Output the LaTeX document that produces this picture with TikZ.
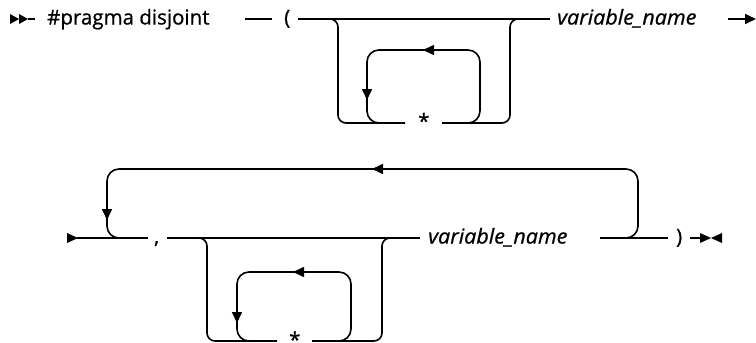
\documentclass[tikz,border=0pt]{standalone}
\usepackage{fontspec}
\setmainfont{Open Sans}[ItalicFeatures={FakeStretch=1.05}]
\usetikzlibrary{arrows.meta}
\begin{document}
\begin{tikzpicture}[x=1pt,y=-1pt,
  rail/.style={line width=1.6pt, rounded corners=8pt},
  loop/.style={line width=1.6pt, rounded corners=12pt},
  tip/.style={-{Triangle[length=11pt,width=10pt]}, line width=1.6pt},
  lbl/.style={inner sep=0pt, anchor=base west, font=\fontsize{20.5}{24}\selectfont\addfontfeature{FakeBold=0.8}},
  var/.style={lbl, font=\fontsize{20.5}{24}\selectfont\itshape\addfontfeature{FakeBold=0.8}},
]
\useasboundingbox (0,0) rectangle (756,343);
% ---------- row 1 ----------
\fill (10,14) -- (19,19) -- (10,24) -- cycle;
\fill (19,14) -- (28,19) -- (19,24) -- cycle;
\coordinate (a0) at (28,19);
\coordinate (a1) at (35,19);
\draw[rail] (a0) -- (a1);
\node[lbl] (kw) at (47,24.5) {\#pragma disjoint};
\coordinate (b0) at (245,19);
\coordinate (b1) at (272,19);
\draw[rail] (b0) -- (b1);
\node[lbl] (lp) at (284,24.5) {(};
\node[var] (v1) at (557,24.5) {variable\_name};
\coordinate (c0) at (298,19);
\coordinate (c1) at (550,19);
\draw[rail] (c0) -- (c1);
% optional repeat branch
\node[lbl] (st1) at (418,128.5) {*};
\draw[rail] (326,19) -| (338,123) -- (405,123);
\draw[rail] (442,123) -| (510,19) -- (520,19);
\draw[loop] (460,123) -| (480,50) -| (367,123) -- (385,123);
\draw[tip] (440,50) -- (423,50);
\draw[tip] (367,85) -- (367,100);
% end of row 1
\coordinate (e0) at (728,19);
\coordinate (e1) at (756,19);
\draw[tip] (e0) -- (e1);
% ---------- row 2 ----------
\fill (67,233) -- (78,238) -- (67,243) -- cycle;
\coordinate (f0) at (77,238);
\coordinate (f1) at (148,238);
\draw[rail] (f0) -- (f1);
\node[lbl] (cm) at (154,243.5) {,};
\coordinate (g0) at (167,238);
\coordinate (g1) at (420,238);
\draw[rail] (g0) -- (g1);
\node[var] (v2) at (428,243.5) {variable\_name};
% repeat loop
\draw[loop] (618,238) -| (638,169) -| (107,238) -- (127,238);
\draw[tip] (390,169) -- (372,169);
\draw[tip] (107,200) -- (107,220);
% optional branch
\node[lbl] (st2) at (289,347) {*};
\draw[rail] (195,238) -| (207,341) -- (277,341);
\draw[rail] (312,341) -| (382,238) -- (392,238);
\draw[loop] (330,341) -| (351,272) -| (237,341) -- (255,341);
\draw[tip] (310,272) -- (293,272);
\draw[tip] (237,308) -- (237,323);
% closing
\coordinate (h0) at (600,238);
\coordinate (h1) at (668,238);
\draw[rail] (h0) -- (h1);
\node[lbl] (rp) at (676,243.5) {)};
\coordinate (i0) at (690,238);
\coordinate (i1) at (700,238);
\draw[rail] (i0) -- (i1);
\fill (700,233) -- (711,238) -- (700,243) -- cycle;
\fill (722,233) -- (711,238) -- (722,243) -- cycle;
\end{tikzpicture}
\end{document}
